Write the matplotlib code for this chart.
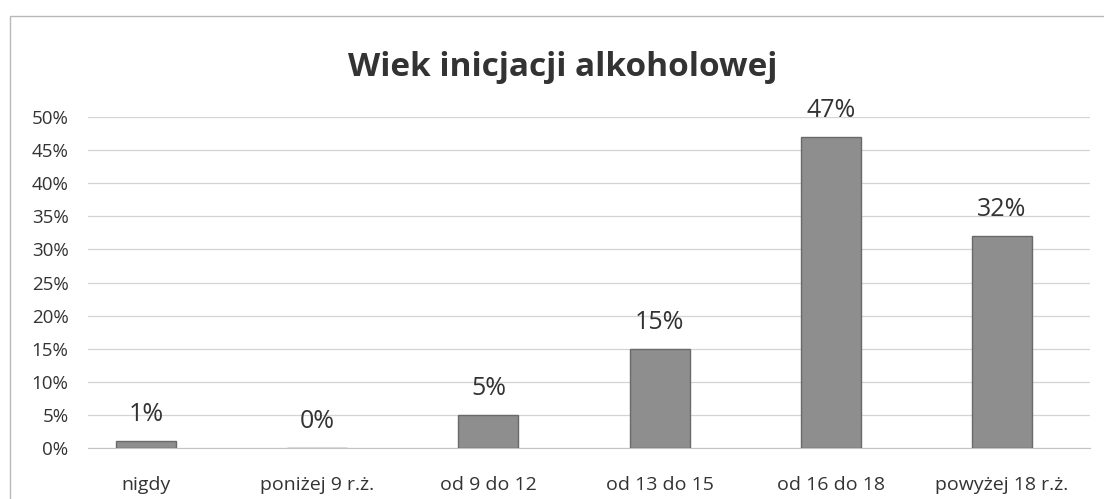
import matplotlib.pyplot as plt
from matplotlib.patches import Rectangle

categories = ['nigdy', 'poniżej 9 r.ż.', 'od 9 do 12', 'od 13 do 15', 'od 16 do 18', 'powyżej 18 r.ż.']
values = [0.01, 0.00, 0.05, 0.15, 0.47, 0.32]
value_labels = ['1%', '0%', '5%', '15%', '47%', '32%']
yticks = [0, 0.05, 0.10, 0.15, 0.20, 0.25, 0.30, 0.35, 0.40, 0.45, 0.50]
ytick_labels = ['0%', '5%', '10%', '15%', '20%', '25%', '30%', '35%', '40%', '45%', '50%']
title = 'Wiek inicjacji alkoholowej'

plt.rcParams['font.family'] = ['Open Sans', 'DejaVu Sans']

fig = plt.figure(figsize=(11.04, 4.99), dpi=100)
fig.patch.set_facecolor('white')

# frame around the chart
fig.patches.append(Rectangle((10 / 1104, -0.1), 1.2, 1.1 - 16 / 499, transform=fig.transFigure,
                             fill=False, edgecolor='#b8b8b8', linewidth=1.0))

ax = fig.add_axes([88 / 1104, 1 - 448 / 499, (1090 - 88) / 1104, (448 - 117) / 499])

x = list(range(len(categories)))
bars = ax.bar(x, values, width=0.35, color='#8e8e8e', edgecolor='#6a6a6a', linewidth=1.0, zorder=3)

for xi, v, lab in zip(x, values, value_labels):
    ax.annotate(lab, (xi, v), xytext=(0, 10), textcoords='offset points',
                ha='center', va='bottom', fontsize=18, color='#333333', annotation_clip=False)

ax.set_xlim(-0.339, 5.514)
ax.set_ylim(0, 0.5)
ax.set_yticks(yticks)
ax.set_yticklabels(ytick_labels, fontsize=13.5, color='#333333')
ax.set_xticks(x)
ax.set_xticklabels(categories, fontsize=14, color='#333333')
ax.tick_params(axis='y', length=0, pad=14)
ax.tick_params(axis='x', length=0, pad=20)
ax.grid(axis='y', color='#d4d4d4', linewidth=0.9, zorder=0)
for side in ['top', 'right', 'left']:
    ax.spines[side].set_visible(False)
ax.spines['bottom'].set_color('#c4c4c4')

fig.text(563 / 1104, 1 - 68 / 499, title, ha='center', va='center',
         fontsize=24, fontweight='bold', color='#333333')

plt.savefig('out.png', dpi=100)
